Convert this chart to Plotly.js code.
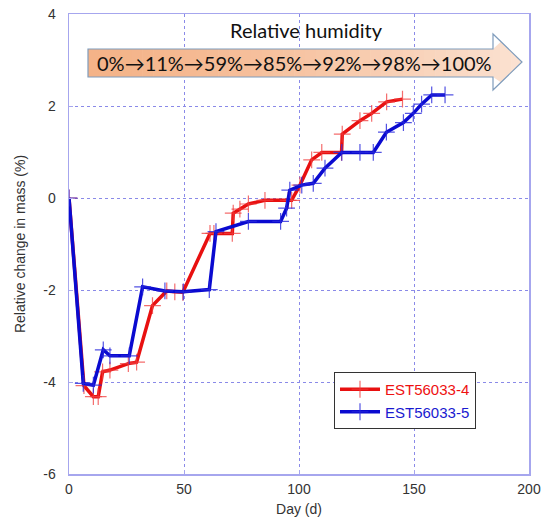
<!DOCTYPE html>
<html>
<head>
<meta charset="utf-8">
<script src="https://cdn.plot.ly/plotly-3.0.1.min.js"></script>
<style>html,body{margin:0;padding:0;background:#fff;}#chart{width:550px;height:527px;}</style>
</head>
<body>
<div id="chart"></div>
<script>
// ---- data ----
const seriesNames = ["EST56033-4", "EST56033-5"];
const redDay = [0, 6.5, 10.6, 12.7, 14.6, 17.8, 25.8, 29.4, 36.3, 42.5, 46, 49.5, 61.3, 63, 71, 71.4, 74.3, 78, 85.2, 95.3, 96.8, 100.4, 105.5, 109.9, 118.5, 118.8, 126.5, 131.6, 138.1, 145];
const redVal = [0, -4.08, -4.32, -4.32, -3.78, -3.74, -3.6, -3.57, -2.34, -2.02, -2.04, -2.05, -0.77, -0.77, -0.77, -0.33, -0.24, -0.13, -0.05, -0.05, -0.05, 0.28, 0.83, 0.99, 0.99, 1.39, 1.68, 1.84, 2.09, 2.15];
const blueDay = [0, 6.2, 10.6, 14.9, 17.8, 26.2, 32, 41.7, 49.7, 61, 63.9, 78, 92, 94.6, 96, 101.2, 106.2, 111.3, 118.6, 126.5, 132.3, 138, 145.4, 149.7, 153.3, 157.7, 163.5];
const blueVal = [0, -4.03, -4.07, -3.3, -3.43, -3.43, -1.93, -2.02, -2.04, -1.99, -0.73, -0.51, -0.51, -0.22, 0.17, 0.28, 0.32, 0.65, 0.99, 0.99, 0.99, 1.43, 1.64, 1.84, 2.04, 2.24, 2.24];
const xTicks = [0, 50, 100, 150, 200];
const yTicks = [4, 2, 0, -2, -4, -6];
const yTickText = ["4", "2", "0", "-2", "-4", "-6"];
const humiditySteps = ["0%", "11%", "59%", "85%", "92%", "98%", "100%"];
const bannerTitle = "Relative humidity";

// ---- layout geometry ----
const W = 550, H = 527;
const M = {l: 69, r: 21, t: 14, b: 53};
const PW = W - M.l - M.r, PH = H - M.t - M.b;
const px = x => (x - M.l) / PW;
const py = y => (H - M.b - y) / PH;

// decorative arrow banner (pixel geometry → paper coords), sliced for a gradient
const A = {x0: 88, bodyTop: 49, bodyBot: 77, headX: 493, headTop: 34, headBot: 90, tipX: 522, tipY: 62};
function topAt(x) { return x <= A.headX ? A.bodyTop : A.headTop + (x - A.headX) * (A.tipY - A.headTop) / (A.tipX - A.headX); }
function botAt(x) { return x <= A.headX ? A.bodyBot : A.headBot + (x - A.headX) * (A.tipY - A.headBot) / (A.tipX - A.headX); }
function lerpColor(c1, c2, t) {
  const a = c1.match(/\w\w/g).map(h => parseInt(h, 16)), b = c2.match(/\w\w/g).map(h => parseInt(h, 16));
  return 'rgb(' + a.map((v, i) => Math.round(v + (b[i] - v) * t)).join(',') + ')';
}
const shapes = [];
const N = 40;
const brk = [];
for (let i = 0; i <= N; i++) brk.push(A.x0 + (A.tipX - A.x0) * i / N);
if (!brk.includes(A.headX)) { brk.push(A.headX); brk.sort((a, b) => a - b); }
for (let i = 0; i < brk.length - 1; i++) {
  const a = brk[i];
  const bb = Math.min(brk[i + 1] + (i < brk.length - 2 ? 0.6 : 0), A.tipX);
  const t = ((a + bb) / 2 - A.x0) / (A.tipX - A.x0);
  let pts;
  if (a < A.headX) pts = [[a, A.bodyTop], [bb, A.bodyTop], [bb, A.bodyBot], [a, A.bodyBot]];
  else pts = [[a, topAt(a)], [bb, topAt(bb)], [bb, botAt(bb)], [a, botAt(a)]];
  const path = 'M' + pts.map(p => px(p[0]) + ',' + py(p[1])).join(' L') + ' Z';
  shapes.push({type: 'path', xref: 'paper', yref: 'paper', path: path, fillcolor: lerpColor('f4b388', 'fbe2d2', Math.pow(t, 1.4)), line: {width: 0}, layer: 'above'});
}
const outline = [[A.x0, A.bodyTop], [A.headX, A.bodyTop], [A.headX, A.headTop], [A.tipX, A.tipY], [A.headX, A.headBot], [A.headX, A.bodyBot], [A.x0, A.bodyBot]];
shapes.push({type: 'path', xref: 'paper', yref: 'paper', layer: 'above',
  path: 'M' + outline.map(p => px(p[0]) + ',' + py(p[1])).join(' L') + ' Z',
  fillcolor: 'rgba(0,0,0,0)', line: {color: '#7f9cbc', width: 1.2}});

const traces = [
  {x: redDay, y: redVal, name: '<span style="color:#ee1111">' + seriesNames[0] + '</span>', type: 'scatter', mode: 'lines+markers',
   line: {color: '#e81010', width: 3.5}, marker: {symbol: 'cross-thin', size: 12, line: {color: 'rgba(240,60,60,0.75)', width: 1.2}}},
  {x: blueDay, y: blueVal, name: '<span style="color:#1a1ad0">' + seriesNames[1] + '</span>', type: 'scatter', mode: 'lines+markers',
   line: {color: '#0a0ad0', width: 3.5}, marker: {symbol: 'cross-thin', size: 12, line: {color: 'rgba(40,40,220,0.8)', width: 1.2}}}
];

const FONT = 'Liberation Sans, Arial, sans-serif';
const axisCommon = {
  showline: true, mirror: true, linecolor: '#a6a6ee', linewidth: 1.5,
  showgrid: true, gridcolor: '#8a8ae8', griddash: 'dot', gridwidth: 1,
  zeroline: false, ticks: 'inside', ticklen: 4, tickcolor: '#a6a6ee',
  tickfont: {family: FONT, size: 14, color: '#333'}
};

const layout = {
  width: W, height: H, margin: M, paper_bgcolor: '#fff', plot_bgcolor: '#fff',
  showlegend: true,
  xaxis: Object.assign({}, axisCommon, {range: [0, 200], tickvals: xTicks, ticktext: xTicks.map(String), ticklabelstandoff: 2,
    title: {text: 'Day (d)', font: {family: FONT, size: 14, color: '#333'}, standoff: 8}}),
  yaxis: Object.assign({}, axisCommon, {range: [-6, 4], tickvals: yTicks, ticktext: yTickText, ticklabelstandoff: 9,
    title: {text: 'Relative change in mass (%)', font: {family: FONT, size: 14, color: '#333'}, standoff: 14}}),
  legend: {x: px(334), y: py(372), xanchor: 'left', yanchor: 'top', bgcolor: '#fff', bordercolor: '#333', borderwidth: 1,
    font: {family: FONT, size: 15, color: '#333'}, itemwidth: 40, tracegroupgap: 0},
  shapes: shapes,
  annotations: [
    {xref: 'paper', yref: 'paper', x: px(306), y: py(30), xanchor: 'center', yanchor: 'middle', text: bannerTitle, showarrow: false,
     font: {family: 'Lato, Open Sans, sans-serif', size: 20, color: '#111'}},
    {xref: 'paper', yref: 'paper', x: px(294), y: py(63), xanchor: 'center', yanchor: 'middle', text: humiditySteps.join('→'), showarrow: false,
     font: {family: 'Lato, Open Sans, sans-serif', size: 20, color: '#111'}}
  ]
};

Plotly.newPlot('chart', traces, layout, {displayModeBar: false, staticPlot: true});
</script>
</body>
</html>
